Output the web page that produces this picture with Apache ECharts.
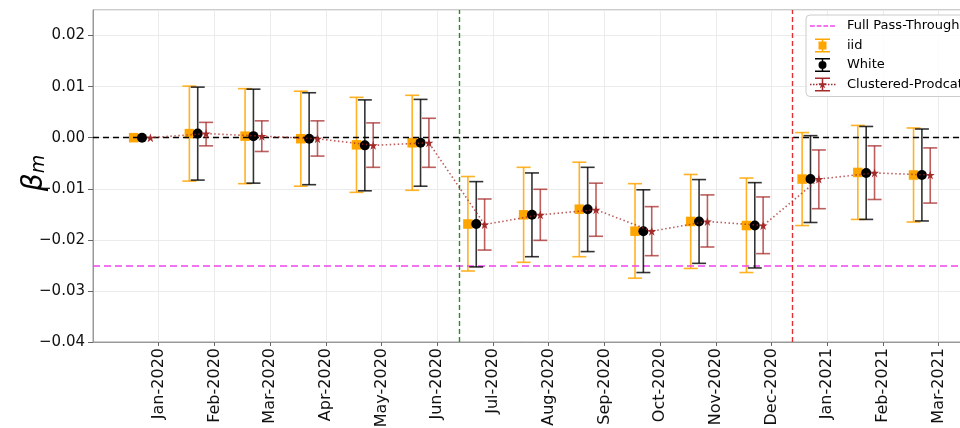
<!DOCTYPE html>
<html><head><meta charset="utf-8">
<script src="https://cdn.jsdelivr.net/npm/echarts@6/dist/echarts.min.js"></script>
<style>html,body{margin:0;padding:0;background:#fff}#c{width:960px;height:428px}</style>
</head><body><div id="c"></div>
<script>
// ---- data ----
const months = ['Jan-2020','Feb-2020','Mar-2020','Apr-2020','May-2020','Jun-2020','Jul-2020','Aug-2020','Sep-2020','Oct-2020','Nov-2020','Dec-2020','Jan-2021','Feb-2021','Mar-2021'];
const yTicks = [-0.04,-0.03,-0.02,-0.01,0.00,0.01,0.02];

const iidEst  = [0, 0.0008, 0.0003, -0.0002, -0.0014, -0.0010, -0.0169, -0.0151, -0.0140, -0.0183, -0.0164, -0.0172, -0.0081, -0.0068, -0.0073];
const iidHigh = [null, 0.0101, 0.0096, 0.0091, 0.0079, 0.0083, -0.0076, -0.0058, -0.0048, -0.0090, -0.0072, -0.0079, 0.0010, 0.0024, 0.0019];
const iidLow  = [null, -0.0085, -0.0090, -0.0095, -0.0107, -0.0103, -0.0261, -0.0244, -0.0233, -0.0275, -0.0256, -0.0264, -0.0172, -0.0160, -0.0165];

const whiteEst  = [0, 0.0008, 0.0003, -0.0002, -0.0015, -0.0010, -0.0169, -0.0151, -0.0140, -0.0183, -0.0164, -0.0172, -0.0081, -0.0069, -0.0073];
const whiteHigh = [null, 0.0099, 0.0095, 0.0088, 0.0074, 0.0075, -0.0086, -0.0069, -0.0058, -0.0102, -0.0082, -0.0088, 0.0004, 0.0022, 0.0017];
const whiteLow  = [null, -0.0083, -0.0089, -0.0092, -0.0104, -0.0095, -0.0253, -0.0233, -0.0223, -0.0264, -0.0246, -0.0255, -0.0166, -0.0160, -0.0163];

const clEst  = [0, 0.0008, 0.0003, -0.0002, -0.0015, -0.0010, -0.0170, -0.0151, -0.0141, -0.0183, -0.0164, -0.0172, -0.0081, -0.0069, -0.0073];
const clHigh = [null, 0.0030, 0.0033, 0.0033, 0.0029, 0.0038, -0.0120, -0.0101, -0.0089, -0.0135, -0.0112, -0.0116, -0.0024, -0.0016, -0.0020];
const clLow  = [null, -0.0016, -0.0027, -0.0036, -0.0058, -0.0058, -0.0220, -0.0201, -0.0193, -0.0231, -0.0214, -0.0227, -0.0139, -0.0121, -0.0128];

const passThrough = -0.025;
const eventLines = [5.39, 11.38];

// ---- styling / layout ----
const OFF_IID = -0.45, OFF_WHITE = -0.30, OFF_CL = -0.15;
const C_IID = '#FFA500', C_WHITE = '#000000', C_CL = '#A52A2A', C_PT = '#EE44EE';
const FONT = 'DejaVu Sans';

function pts(est, off){ return est.map((v,i)=>[i+off, v]); }
function bars(lo, hi, off){
  const out = [];
  lo.forEach((v,i)=>{ if (v!=null && hi[i]!=null) out.push([i+off, v, hi[i]]); });
  return out;
}
function errBar(color, opacity){
  return function(params, api){
    const x = api.value(0);
    const lo = api.coord([x, api.value(1)]);
    const hi = api.coord([x, api.value(2)]);
    const cap = 7;
    const st = {stroke: color, lineWidth: 1.6, opacity: opacity, fill: null};
    return {type:'group', children:[
      {type:'line', shape:{x1:lo[0],y1:lo[1],x2:hi[0],y2:hi[1]}, style:st},
      {type:'line', shape:{x1:lo[0]-cap,y1:lo[1],x2:lo[0]+cap,y2:lo[1]}, style:st},
      {type:'line', shape:{x1:hi[0]-cap,y1:hi[1],x2:hi[0]+cap,y2:hi[1]}, style:st}
    ]};
  };
}
const STAR = 'path://M50 0L61.23 34.55L97.55 34.55L68.17 55.9L79.39 90.45L50 69.1L20.61 90.45L31.83 55.9L2.45 34.55L38.77 34.55Z';

function r(x,y,w,h){ return 'M'+x+' '+y+'h'+w+'v'+h+'h'+(-w)+'Z'; }
const CORNERS = r(0,0,0.01,0.01) + r(31.99,13.99,0.01,0.01);
const EB = r(5,0,15,1.5) + r(5,12.5,15,1.5) + r(11.75,0,1.5,14);
function starAt(cx, cy, s){
  const p = [[50,0],[61.23,34.55],[97.55,34.55],[68.17,55.9],[79.39,90.45],[50,69.1],[20.61,90.45],[31.83,55.9],[2.45,34.55],[38.77,34.55]];
  return 'M' + p.map(q=>((cx+(q[0]-50)*s).toFixed(2)+' '+(cy+(q[1]-48)*s).toFixed(2))).join('L') + 'Z';
}
let dots = ''; for (let x=0; x<25; x+=3) dots += r(x,6.3,1.5,1.4);
const ICON_PT = 'path://' + CORNERS + r(0,6.2,4.8,1.6)+r(6.7,6.2,4.8,1.6)+r(13.4,6.2,4.8,1.6)+r(20.1,6.2,4.8,1.6);
const ICON_IID = 'path://' + CORNERS + EB + r(8.5,3,8,8);
const ICON_WHITE = 'path://' + CORNERS + EB + 'M16.5 7A4 4 0 1 1 8.5 7A4 4 0 1 1 16.5 7Z';
const ICON_CL = 'path://' + CORNERS + dots + EB + starAt(12.5, 7, 0.09);

const fmtY = v => (v<0?'\u2212':'') + Math.abs(v).toFixed(2);

const chart = echarts.init(document.getElementById('c'), null, {renderer:'canvas'});
chart.setOption({
  animation: false,
  backgroundColor: '#fff',
  grid: {left: 93, top: 10, right: -2, bottom: 86, show: true, borderColor: '#999', borderWidth: 1,
    containLabel: false, outerBoundsMode: 'none'},
  legend: {
    orient: 'vertical', left: 806, top: 15,
    padding: [4, 8, 5, 4], itemGap: 5.5, itemWidth: 32, itemHeight: 14,
    backgroundColor: 'rgba(255,255,255,0.85)', borderColor: '#cccccc', borderWidth: 1, borderRadius: 4,
    textStyle: {fontFamily: FONT, fontSize: 13, color: '#000', lineHeight: 14},
    data: [
      {name:'Full Pass-Through', icon: ICON_PT, itemStyle:{color: C_PT}},
      {name:'iid', icon: ICON_IID, itemStyle:{color: C_IID}},
      {name:'White', icon: ICON_WHITE, itemStyle:{color: C_WHITE}},
      {name:'Clustered-Prodcat', icon: ICON_CL, itemStyle:{color: C_CL}}
    ]
  },
  xAxis: {
    type: 'value', min: -1.18, max: 14.42,
    axisLine: {show: true, onZero: false, lineStyle: {color: '#999', width: 1}},
    axisTick: {show: true, length: 4, customValues: months.map((m,i)=>i), lineStyle: {color: '#666'}},
    axisLabel: {customValues: months.map((m,i)=>i), rotate: 90, margin: 6, fontFamily: FONT, fontSize: 16, color: '#111',
      formatter: v => months[Math.round(v)] || ''},
    splitLine: {show: true, lineStyle: {color: '#ebebeb', width: 1}}
  },
  yAxis: {
    type: 'value', min: -0.04, max: 0.025, interval: 0.01,
    axisLine: {show: true, onZero: false, lineStyle: {color: '#999', width: 1}},
    axisTick: {show: true, length: 5, lineStyle: {color: '#666'}},
    axisLabel: {margin: 8, fontFamily: FONT, fontSize: 15, color: '#111', showMaxLabel: false,
      formatter: v => yTicks.some(t=>Math.abs(t-v)<1e-9) ? fmtY(v) : ''},
    splitLine: {show: true, lineStyle: {color: '#ebebeb', width: 1}},
    name: '{b|\u03b2}{s|m}', nameLocation: 'middle', nameGap: 44, nameRotate: 90, nameMoveOverlap: false,
    nameTextStyle: {padding: [0, 0, 0, 6], rich: {
      b: {fontFamily: FONT, fontSize: 28, fontStyle: 'italic', color: '#000', verticalAlign: 'middle'},
      s: {fontFamily: FONT, fontSize: 19, fontStyle: 'italic', color: '#000', verticalAlign: 'bottom', padding: [10,0,0,0]}
    }}
  },
  series: [
    {name: 'Full Pass-Through', type: 'line', data: [], itemStyle: {color: C_PT}, z: 1,
      markLine: {silent: true, symbol: 'none', precision: 6, label: {show: false},
        lineStyle: {color: C_PT, type: [7, 4], width: 1.6}, data: [{yAxis: passThrough}]}},
    {name: 'ref', type: 'line', data: [], z: 1,
      markLine: {silent: true, symbol: 'none', precision: 6, label: {show: false},
        data: [
          {yAxis: 0, lineStyle: {color: '#000', type: [6, 4], width: 1.4}},
          {xAxis: eventLines[0], lineStyle: {color: '#2a8a2a', type: [5, 3], width: 1.4}},
          {xAxis: eventLines[1], lineStyle: {color: '#e03030', type: [5, 3], width: 1.4}}
        ]}},
    {name: 'iid', type: 'custom', renderItem: errBar(C_IID, 0.85), data: bars(iidLow, iidHigh, OFF_IID),
      encode: {x: 0, y: [1, 2]}, itemStyle: {color: C_IID}, z: 3},
    {name: 'iid', type: 'scatter', symbol: 'rect', symbolSize: 9.5, data: pts(iidEst, OFF_IID),
      itemStyle: {color: C_IID, opacity: 1}, z: 4},
    {name: 'White', type: 'custom', renderItem: errBar(C_WHITE, 0.8), data: bars(whiteLow, whiteHigh, OFF_WHITE),
      encode: {x: 0, y: [1, 2]}, itemStyle: {color: C_WHITE}, z: 5},
    {name: 'White', type: 'scatter', symbol: 'circle', symbolSize: 10, data: pts(whiteEst, OFF_WHITE),
      itemStyle: {color: C_WHITE, opacity: 1}, z: 6},
    {name: 'Clustered-Prodcat', type: 'custom', renderItem: errBar(C_CL, 0.75), data: bars(clLow, clHigh, OFF_CL),
      encode: {x: 0, y: [1, 2]}, itemStyle: {color: C_CL}, z: 7},
    {name: 'Clustered-Prodcat', type: 'line', symbol: STAR, symbolSize: 9, showSymbol: true, data: pts(clEst, OFF_CL),
      itemStyle: {color: C_CL, opacity: 1}, lineStyle: {color: C_CL, type: [1.5, 2.5], width: 1.6, opacity: 0.75}, z: 8}
  ]
});
</script></body></html>
